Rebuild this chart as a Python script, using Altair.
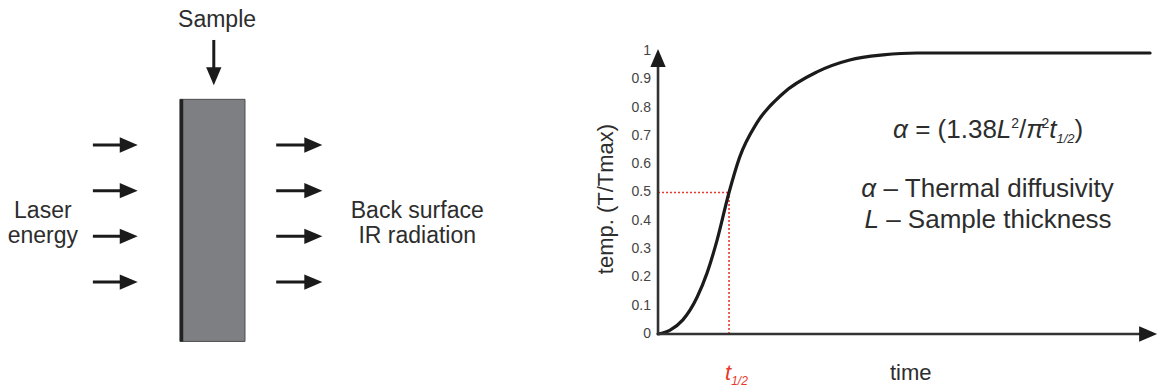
import altair as alt
import pandas as pd

W, H = 1158, 387
FONT = "Liberation Sans"
INK = "#1b1b1b"
TEXT = "#2d2d2d"
RED = "#e8392c"
SLAB = "#7e7f83"

# ---------------- left: flash set-up diagram (slab-width units) ----------------
arrow_rows = [1, 2, 3, 4]
laser_start, laser_tip = -1.34, -0.65
ir_start, ir_tip = 1.48, 2.19
slab_left, slab_right = 0.0, 1.0
slab_bottom, slab_top = -0.3, 5.0
sample_x = 0.52
sample_from, sample_to = 6.30, 5.31
left_text = ["Sample", "Laser", "energy", "Back surface", "IR radiation"]
left_text_x = [0.57, -2.11, -2.11, 3.65, 3.65]
left_text_y = [6.58, 2.40, 1.86, 2.40, 1.86]
left_x_domain = [-2.769, 15.046]
left_y_domain = [-1.298, 7.175]

# ---------------- right: normalised rear-face temperature ----------------
curve_t = [0, 0.17, 0.35, 0.55, 0.69, 0.83, 1.0, 1.15, 1.39, 1.76, 2.24, 2.70,
           3.17, 3.65, 4.3, 5.0, 6.0, 6.93]
curve_v = [0, 0.014, 0.05, 0.13, 0.215, 0.33, 0.50, 0.625, 0.745, 0.85, 0.926, 0.968,
           0.986, 0.993, 0.993, 0.993, 0.993, 0.993]
tick_values = [0, 0.1, 0.2, 0.3, 0.4, 0.5, 0.6, 0.7, 0.8, 0.9, 1.0]
tick_labels = ["0", "0.1", "0.2", "0.3", "0.4", "0.5", "0.6", "0.7", "0.8", "0.9", "1"]
t_half, v_half = 1.0, 0.5
t_axis_tip, v_axis_tip = 7.03, 1.007
right_x_domain = [-9.268, 7.042]
right_y_domain = [-0.1873, 1.1802]

PX_T = W / (right_x_domain[1] - right_x_domain[0])
PX_V = H / (right_y_domain[1] - right_y_domain[0])

ARROW = "M-1,-0.85L1,0L-1,0.85Z"
HEAD = 18

# Arial-compatible advance widths (em)
ADV = {" ": .278, "=": .584, "(": .333, ")": .333, "1": .556, ".": .278, "3": .556,
       "8": .556, "/": .278, "2": .556, "t": .278, "–": .556, "T": .611, "h": .556,
       "e": .556, "r": .333, "m": .833, "a": .556, "l": .222, "d": .556, "i": .222,
       "f": .278, "u": .556, "s": .5, "v": .5, "y": .5, "L": .556, "S": .667,
       "p": .556, "c": .5, "k": .5, "n": .556, "α": .578, "π": .58}


def tw(s, size):
    return sum(ADV.get(c, .556) for c in s) * size


def run(pieces, t_pos, v_base, anchor="center"):
    total = sum(tw(p[0], p[1]) for p in pieces)
    cur = t_pos * PX_T - (total / 2 if anchor == "center" else 0)
    rows = []
    for text, size, ital, rise, color in pieces:
        lead = len(text) - len(text.lstrip(" "))
        cur += tw(" " * lead, size)
        body = text.lstrip(" ")
        rows.append(dict(t=cur / PX_T, v=v_base + rise / PX_V, text=body,
                         size=size, italic=ital, color=color))
        cur += tw(body, size)
    return rows


S, s = 26, 14
rows = []
rows += run([("α", S, True, 0, TEXT), (" =", S, False, 0, TEXT), (" (1.38", S, False, 0, TEXT),
             ("L", S, True, 0, TEXT), ("2", s, False, 10, TEXT), ("/", S, False, 0, TEXT),
             ("π", S, True, 0, TEXT), ("2", s, False, 10, TEXT), ("t", S, True, 0, TEXT),
             ("1/2", 13, True, -5, TEXT), (")", S, False, 0, TEXT)], 4.648, 0.693)
rows += run([("α", S, True, 0, TEXT), (" – Thermal diffusivity", S, False, 0, TEXT)], 4.648, 0.484)
rows += run([("L", S, True, 0, TEXT), (" – Sample thickness", S, False, 0, TEXT)], 4.648, 0.375)
rows += run([("t", 22, True, 0, RED), ("1/2", 12, True, -5, RED)], 0.944, -0.163, anchor="left")
rows += run([("time", 22, False, 0, TEXT)], 3.56, -0.163)
rtext = pd.DataFrame(rows)

# ---------------- encoding helpers ----------------
def lx(f):
    return alt.X(f, type="quantitative", scale=alt.Scale(domain=left_x_domain, nice=False, zero=False), axis=None)


def ly(f):
    return alt.Y(f, type="quantitative", scale=alt.Scale(domain=left_y_domain, nice=False, zero=False), axis=None)


def rx(f):
    return alt.X(f, type="quantitative", scale=alt.Scale(domain=right_x_domain, nice=False, zero=False), axis=None)


def ry(f):
    return alt.Y(f, type="quantitative", scale=alt.Scale(domain=right_y_domain, nice=False, zero=False), axis=None)


# ---------------- left layers ----------------
slab_df = pd.DataFrame([dict(x=slab_left, x2=slab_right, y=slab_bottom, y2=slab_top)])
slab = alt.Chart(slab_df).mark_rect(fill=SLAB, stroke="#4d4d4d", strokeWidth=1).encode(
    x=lx("x"), x2="x2", y=ly("y"), y2="y2")
edge = alt.Chart(slab_df).mark_rule(color="#222222", strokeWidth=3.5, xOffset=1.5).encode(
    x=lx("x"), y=ly("y"), y2="y2")

shaft_df = pd.DataFrame(
    [dict(x=laser_start, x2=laser_tip, y=r) for r in arrow_rows] +
    [dict(x=ir_start, x2=ir_tip, y=r) for r in arrow_rows])
shafts = alt.Chart(shaft_df).mark_rule(color=INK, strokeWidth=3, x2Offset=-HEAD / 2).encode(
    x=lx("x"), x2="x2", y=ly("y"))
heads = alt.Chart(shaft_df).mark_point(shape=ARROW, size=HEAD * HEAD, filled=True, opacity=1,
                                       color=INK, xOffset=-HEAD / 2).encode(
    x=lx("x2"), y=ly("y"))

samp_df = pd.DataFrame([dict(x=sample_x, y=sample_from, y2=sample_to)])
samp_shaft = alt.Chart(samp_df).mark_rule(color=INK, strokeWidth=3, y2Offset=-HEAD / 2).encode(
    x=lx("x"), y=ly("y"), y2="y2")
samp_head = alt.Chart(samp_df).mark_point(shape=ARROW, size=HEAD * HEAD, filled=True, opacity=1,
                                          color=INK, angle=90, yOffset=-HEAD / 2).encode(
    x=lx("x"), y=ly("y2"))

ltext_df = pd.DataFrame(dict(x=left_text_x, y=left_text_y, text=left_text))
ltext = alt.Chart(ltext_df).mark_text(font=FONT, fontSize=23, color=TEXT, align="center",
                                      baseline="alphabetic").encode(
    x=lx("x"), y=ly("y"), text="text:N")

left = alt.layer(slab, edge, shafts, heads, samp_shaft, samp_head, ltext)

# ---------------- right layers ----------------
red_h = alt.Chart(pd.DataFrame([dict(t=0, t2=t_half, v=v_half)])).mark_rule(
    color=RED, strokeWidth=1.6, strokeDash=[2, 2]).encode(x=rx("t"), x2="t2", y=ry("v"))
red_v = alt.Chart(pd.DataFrame([dict(t=t_half, v=0, v2=v_half)])).mark_rule(
    color=RED, strokeWidth=1.6, strokeDash=[2, 2]).encode(x=rx("t"), y=ry("v"), y2="v2")

curve = alt.Chart(pd.DataFrame(dict(t=curve_t, v=curve_v))).mark_line(
    color=INK, strokeWidth=3.2, interpolate="monotone", strokeCap="round").encode(
    x=rx("t"), y=ry("v"))

xaxis_df = pd.DataFrame([dict(t=0, t2=t_axis_tip, v=0)])
x_line = alt.Chart(xaxis_df).mark_rule(color="#333333", strokeWidth=2.6, x2Offset=-HEAD / 2).encode(
    x=rx("t"), x2="t2", y=ry("v"))
x_head = alt.Chart(xaxis_df).mark_point(shape=ARROW, size=HEAD * HEAD, filled=True, opacity=1,
                                        color=INK, xOffset=-HEAD / 2).encode(
    x=rx("t2"), y=ry("v"))
yaxis_df = pd.DataFrame([dict(t=0, v=0, v2=v_axis_tip)])
y_line = alt.Chart(yaxis_df).mark_rule(color="#333333", strokeWidth=2.6, y2Offset=HEAD / 2).encode(
    x=rx("t"), y=ry("v"), y2="v2")
y_head = alt.Chart(yaxis_df).mark_point(shape=ARROW, size=HEAD * HEAD, filled=True, opacity=1,
                                        color=INK, angle=270, yOffset=HEAD / 2).encode(
    x=rx("t"), y=ry("v2"))

tick_df = pd.DataFrame(dict(t=[0] * len(tick_values), v=tick_values, text=tick_labels))
ticks = alt.Chart(tick_df).mark_text(font=FONT, fontSize=14, color="#444444", align="right",
                                     baseline="middle", dx=-7).encode(
    x=rx("t"), y=ry("v"), text="text:N")

ytitle = alt.Chart(pd.DataFrame([dict(t=-0.732, v=0.477, text="temp. (T/Tmax)")])).mark_text(
    font=FONT, fontSize=22, color=TEXT, angle=270, align="center", baseline="middle").encode(
    x=rx("t"), y=ry("v"), text="text:N")


def text_layer(df, italic):
    return alt.Chart(df).mark_text(font=FONT, align="left", baseline="alphabetic",
                                   fontStyle="italic" if italic else "normal").encode(
        x=rx("t"), y=ry("v"), text="text:N",
        size=alt.Size("size:Q", scale=None, legend=None),
        color=alt.Color("color:N", scale=None, legend=None))


txt_norm = text_layer(rtext[~rtext["italic"]], False)
txt_ital = text_layer(rtext[rtext["italic"]], True)

right = alt.layer(red_h, red_v, curve, x_line, y_line, x_head, y_head, ticks, ytitle,
                  txt_norm, txt_ital)

chart = alt.layer(left, right).resolve_scale(x="independent", y="independent").properties(
    width=W, height=H, padding=0, autosize=alt.AutoSizeParams(type="none"),
    background="white").configure_view(stroke=None)

chart.save("out.html", embed_options={"renderer": "svg", "actions": False})
